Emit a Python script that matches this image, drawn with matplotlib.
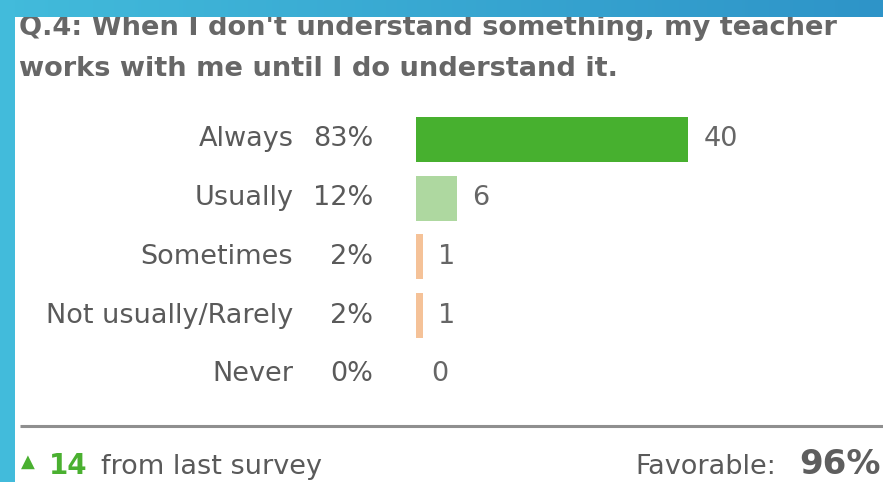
import numpy as np
import matplotlib
matplotlib.use("Agg")
import matplotlib.pyplot as plt
from matplotlib.colors import LinearSegmentedColormap

# survey results for Q.4
categories = ["Always", "Usually", "Sometimes", "Not usually/Rarely", "Never"]
percents = ["83%", "12%", "2%", "2%", "0%"]
counts = [40, 6, 1, 1, 0]
bar_colors = ["#47b02f", "#aed8a0", "#f5c298", "#f5c298", "#f5c298"]
change = 14
favorable = "96%"

title_lines = ["Q.4: When I don't understand something, my teacher",
               "works with me until I do understand it."]

W, H = 883, 482
fig = plt.figure(figsize=(W / 100, H / 100), dpi=100)
fig.patch.set_facecolor("white")

def fx(px):
    return px / W

def fy(py):
    return 1 - py / H

label_gray = "#5a5a5a"
title_gray = "#676767"
green = "#4ab030"
fs = 19.5

# title, first line partly hidden under the top frame band
fig.text(fx(19), fy(35), title_lines[0], fontsize=19.6, fontweight="bold",
         color=title_gray, va="baseline", ha="left")
fig.text(fx(19), fy(76), title_lines[1], fontsize=19.6, fontweight="bold",
         color=title_gray, va="baseline", ha="left")

# bar area: x 0..40 spans 416..688 px, rows centred 139..374 px
row_pitch = 58.7
top = 139.5 - row_pitch / 2
bottom = top + row_pitch * len(categories)
ax = fig.add_axes([fx(416), fy(bottom), fx(688) - fx(416), (bottom - top) / H])
ax.set_xlim(0, 40)
ax.set_ylim(len(categories) - 0.5, -0.5)
ax.axis("off")

y = np.arange(len(categories))
ax.barh(y, counts, height=0.77, color=bar_colors, left=0)

for i, (cat, pct, c) in enumerate(zip(categories, percents, counts)):
    ax.text(-0.451, i, cat, transform=ax.get_yaxis_transform(), ha="right",
            va="center", fontsize=fs, color=label_gray)
    ax.text(-0.158, i, pct, transform=ax.get_yaxis_transform(), ha="right",
            va="center", fontsize=fs, color=label_gray)
    ax.annotate(str(c), xy=(c, i), xytext=(11, 0), textcoords="offset points",
                ha="left", va="center", fontsize=fs, color="#666666")

# separator
line_ax = fig.add_axes([0, 0, 1, 1], zorder=-1)
line_ax.set_xlim(0, W)
line_ax.set_ylim(H, 0)
line_ax.axis("off")
line_ax.plot([20, W], [426, 426], color="#8f8f8f", lw=2.2, solid_capstyle="butt")

# footer
fig.text(fx(21), fy(467), "\u25b2", fontsize=13, color=green,
         va="baseline", ha="left")
fig.text(fx(49), fy(474), str(change), fontsize=20, fontweight="bold",
         color=green, va="baseline", ha="left")
fig.text(fx(101), fy(474), "from last survey", fontsize=fs, color=label_gray,
         va="baseline", ha="left")
fig.text(fx(776), fy(474), "Favorable:", fontsize=fs, color=label_gray,
         va="baseline", ha="right")
fig.text(fx(881), fy(474), favorable, fontsize=24.5, fontweight="bold",
         color="#5e5e5e", va="baseline", ha="right")

# blue frame on top and left
frame_ax = fig.add_axes([0, 0, 1, 1], zorder=10)
frame_ax.axis("off")
frame_ax.patch.set_alpha(0)
grad = LinearSegmentedColormap.from_list("frame", ["#42bbdb", "#2e94c8"])
frame_ax.imshow(np.linspace(0, 1, 256)[None, :], cmap=grad, aspect="auto",
                extent=(0, W, 17, 0))
frame_ax.add_patch(plt.Rectangle((0, 0), 15, H, color="#42bbdb", lw=0))
frame_ax.set_xlim(0, W)
frame_ax.set_ylim(H, 0)

fig.savefig("out.png", dpi=100)
